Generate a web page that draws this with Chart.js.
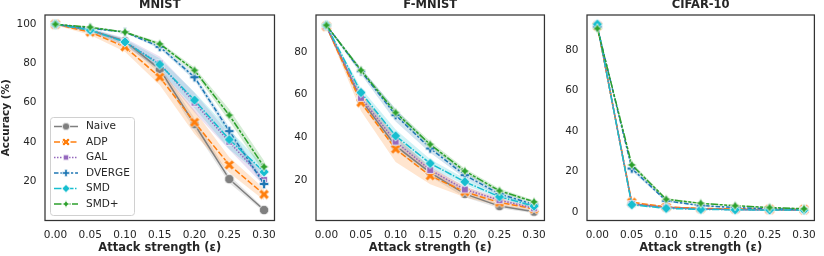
<!DOCTYPE html>
<html>
<head>
<meta charset="utf-8">
<script src="https://cdn.jsdelivr.net/npm/chart.js@4.4.0/dist/chart.umd.min.js"></script>
<style>
    html, body { margin: 0; padding: 0; background: #fff; }
    #wrap { position: relative; width: 824px; height: 256px; overflow: hidden; }
    canvas { position: absolute; top: 0; }
</style>
</head>
<body>
<div id="wrap">
    <canvas id="mnistChart" width="284" height="256" style="left:0px"></canvas>
    <canvas id="fmnistChart" width="270" height="256" style="left:284px"></canvas>
    <canvas id="cifarChart" width="270" height="256" style="left:554px"></canvas>
</div>
<script>
// x values and tick labels
const epsilons = [0, 0.05, 0.1, 0.15, 0.2, 0.25, 0.3];
const methods = ['Naive', 'ADP', 'GAL', 'DVERGE', 'SMD', 'SMD+'];

// MNIST accuracy (%) and band half-widths
const mnistNaive  = [100, 97, 91.5, 77, 49, 21, 5.2];
const mnistAdp    = [100, 96, 88.5, 73, 50, 28.2, 13.2];
const mnistGal    = [100, 97, 91, 80, 60, 40, 20.6];
const mnistDverge = [100, 98, 96, 88.5, 73, 45.5, 18.5];
const mnistSmd    = [100, 97, 91, 79.5, 61.3, 41.2, 24.7];
const mnistSmdp   = [100, 98.5, 96, 90, 76.5, 53.6, 27.3];
const mnistNaiveErr  = [0, 0.5, 1, 2, 3, 2, 1];
const mnistAdpErr    = [0.5, 1.5, 2.5, 4, 6, 4, 3];
const mnistGalErr    = [0.3, 1, 2, 3.5, 5, 4, 3];
const mnistDvergeErr = [0, 0.5, 0.5, 1, 1.5, 2, 1.5];
const mnistSmdErr    = [0, 1, 1.5, 3, 4, 5, 3];
const mnistSmdpErr   = [0, 0.5, 0.5, 1, 1.5, 3, 3];

// F-MNIST
const fmnistNaive  = [92, 57.5, 36, 23.5, 13.5, 7.8, 5.2];
const fmnistAdp    = [92, 56.3, 34.5, 22, 14.5, 9.5, 6.5];
const fmnistGal    = [92, 58.5, 38, 24.7, 15.6, 10.6, 6.8];
const fmnistDverge = [92.5, 71, 50.4, 34.8, 22.3, 13.5, 8.5];
const fmnistSmd    = [92.5, 61, 40.7, 27.8, 19.2, 12.2, 7.8];
const fmnistSmdp   = [92.5, 71.4, 51.6, 36.7, 24.2, 15, 9.8];
const fmnistNaiveErr  = [0.3, 2, 2, 2, 1.5, 1, 0.8];
const fmnistAdpErr    = [0.5, 4, 6, 4, 2.5, 1.5, 1];
const fmnistGalErr    = [0.3, 2, 2, 1.5, 1.5, 1, 0.8];
const fmnistDvergeErr = [0.3, 1.5, 3, 2, 1.5, 1, 0.8];
const fmnistSmdErr    = [0.3, 2, 3, 2, 1.5, 1, 0.8];
const fmnistSmdpErr   = [0.3, 1, 1.5, 1.5, 1.2, 1, 0.8];

// CIFAR-10
const cifarNaive  = [92.5, 4, 2.3, 1.6, 1.3, 1.1, 1.0];
const cifarAdp    = [92, 4.8, 2.5, 1.8, 1.5, 1.3, 1.2];
const cifarGal    = [92.5, 4, 2.2, 1.5, 1.2, 1.1, 1.0];
const cifarDverge = [91.5, 21.5, 5.5, 3.2, 2.2, 1.6, 1.3];
const cifarSmd    = [92.8, 3.6, 1.8, 1.3, 1.1, 1.0, 1.0];
const cifarSmdp   = [90.7, 23.3, 6.3, 4.3, 3.1, 2.2, 1.6];
const cifarNaiveErr  = [0.3, 0.5, 0.3, 0.2, 0.2, 0.2, 0.2];
const cifarAdpErr    = [0.3, 0.5, 0.3, 0.2, 0.2, 0.2, 0.2];
const cifarGalErr    = [0.3, 0.5, 0.3, 0.2, 0.2, 0.2, 0.2];
const cifarDvergeErr = [0.5, 1.2, 0.6, 0.4, 0.3, 0.3, 0.3];
const cifarSmdErr    = [0.3, 0.5, 0.3, 0.2, 0.2, 0.2, 0.2];
const cifarSmdpErr   = [0.5, 1.2, 0.6, 0.4, 0.3, 0.3, 0.3];

// tick labels
const epsTicks = [0, 0.05, 0.1, 0.15, 0.2, 0.25, 0.3];
const mnistTicks = [20, 40, 60, 80, 100];
const fmnistTicks = [20, 40, 60, 80];
const cifarTicks = [0, 20, 40, 60, 80];

const TEXT = '#262626';
const FONT = '"DejaVu Sans", sans-serif';

const seriesStyles = [
    { color: '#7f7f7f', dash: [], marker: 'o' },
    { color: '#ff7f0e', dash: [6, 2.25], marker: 'X' },
    { color: '#9467bd', dash: [1.5, 1.5], marker: 's' },
    { color: '#1f77b4', dash: [4.5, 1.9, 2.25, 1.9], marker: 'P' },
    { color: '#17becf', dash: [7.5, 1.5, 1.5, 1.5], marker: 'D' },
    { color: '#2ca02c', dash: [7.5, 1.5, 3, 1.5, 3, 1.5], marker: '*' }
];

function rgba(hex, a) {
    const n = parseInt(hex.slice(1), 16);
    return `rgba(${n >> 16},${(n >> 8) & 255},${n & 255},${a})`;
}

// marker sprites, seaborn style with white edge
function makeMarker(kind, color, ms) {
    const size = 16;
    const h = ms / 2;
    const c = document.createElement('canvas');
    c.width = c.height = size;
    const ctx = c.getContext('2d');
    ctx.translate(size / 2, size / 2);
    const poly = (pts, rot = 0) => {
        const cs = Math.cos(rot), sn = Math.sin(rot);
        pts.forEach(([x, y], i) => {
            const px = x * cs - y * sn, py = x * sn + y * cs;
            i ? ctx.lineTo(px, py) : ctx.moveTo(px, py);
        });
        ctx.closePath();
    };
    const t = h / 3;
    const plus = [[-t, -h], [t, -h], [t, -t], [h, -t], [h, t], [t, t], [t, h], [-t, h], [-t, t], [-h, t], [-h, -t], [-t, -t]];
    ctx.beginPath();
    switch (kind) {
        case 'o': ctx.arc(0, 0, h, 0, Math.PI * 2); break;
        case 's': ctx.rect(-h * 0.72, -h * 0.72, h * 1.44, h * 1.44); break;
        case 'D': poly([[0, -h * 1.1], [h * 1.1, 0], [0, h * 1.1], [-h * 1.1, 0]]); break;
        case 'P': poly(plus); break;
        case 'X': poly(plus.map(([x, y]) => [x * 1.15, y * 1.15]), Math.PI / 4); break;
        case '*': {
            const pts = [];
            for (let k = 0; k < 8; k++) {
                const r = k % 2 ? h * 0.5 : h * 1.05;
                const a = -Math.PI / 2 + k * Math.PI / 4;
                pts.push([r * Math.cos(a), r * Math.sin(a)]);
            }
            poly(pts);
            break;
        }
    }
    ctx.fillStyle = color;
    ctx.fill();
    ctx.strokeStyle = '#fff';
    ctx.lineWidth = 0.8;
    ctx.stroke();
    return c;
}

const markers = seriesStyles.map(s => makeMarker(s.marker, s.color, 9.5));
const legendMarkers = seriesStyles.map(s => makeMarker(s.marker, s.color, 7.5));

// frame + panel title
const panelDecor = {
    id: 'panelDecor',
    afterDatasetsDraw(chart, args, opts) {
        const { ctx, chartArea: a } = chart;
        ctx.save();
        ctx.strokeStyle = '#333';
        ctx.lineWidth = 1.25;
        ctx.strokeRect(a.left, a.top, a.right - a.left, a.bottom - a.top);
        ctx.fillStyle = TEXT;
        ctx.font = `bold 11.5px ${FONT}`;
        ctx.textAlign = 'center';
        ctx.textBaseline = 'middle';
        ctx.fillText(opts.title, (a.left + a.right) / 2, 5.5);
        ctx.restore();
    }
};

// legend box drawn inside the MNIST axes
const boxLegend = {
    id: 'boxLegend',
    afterDraw(chart, args, opts) {
        if (!opts.show) return;
        const ctx = chart.ctx;
        ctx.save();
        ctx.beginPath();
        ctx.roundRect(50.5, 117.5, 84, 98, 3);
        ctx.fillStyle = 'rgba(255,255,255,0.8)';
        ctx.fill();
        ctx.strokeStyle = '#d0d0d0';
        ctx.lineWidth = 1;
        ctx.stroke();
        ctx.font = `10.5px ${FONT}`;
        ctx.textBaseline = 'middle';
        methods.forEach((name, i) => {
            const y = 126.5 + i * 15.5;
            const st = seriesStyles[i];
            ctx.beginPath();
            ctx.setLineDash(st.dash);
            ctx.strokeStyle = st.color;
            ctx.lineWidth = 1.5;
            ctx.moveTo(54, y);
            ctx.lineTo(78, y);
            ctx.stroke();
            ctx.setLineDash([]);
            ctx.drawImage(legendMarkers[i], 66 - 8, y - 8);
            ctx.fillStyle = TEXT;
            ctx.fillText(name, 86, y);
        });
        ctx.restore();
    }
};

function buildPanel(id, means, errs, cfg) {
    const bands = [];
    const lines = [];
    means.forEach((vals, i) => {
        const st = seriesStyles[i];
        bands.push({
            data: epsilons.map((x, k) => ({ x, y: vals[k] + errs[i][k] })),
            fill: '+1',
            backgroundColor: rgba(st.color, 0.2),
            borderWidth: 0,
            pointRadius: 0,
            order: 60 - i
        });
        bands.push({
            data: epsilons.map((x, k) => ({ x, y: vals[k] - errs[i][k] })),
            fill: false,
            borderWidth: 0,
            pointRadius: 0,
            order: 60 - i
        });
        lines.push({
            label: methods[i],
            data: epsilons.map((x, k) => ({ x, y: vals[k] })),
            borderColor: st.color,
            backgroundColor: st.color,
            borderWidth: 1.5,
            borderDash: st.dash,
            pointStyle: markers[i],
            pointRadius: 4,
            fill: false,
            order: 10 - i
        });
    });

    const tickFont = { family: FONT, size: 10.5 };

    return new Chart(document.getElementById(id), {
        type: 'line',
        data: { datasets: bands.concat(lines) },
        options: {
            responsive: false,
            animation: false,
            devicePixelRatio: 1,
            layout: { padding: { top: 15, right: cfg.padRight, left: 0, bottom: 0 } },
            plugins: {
                legend: { display: false },
                tooltip: { enabled: false },
                panelDecor: { title: cfg.title },
                boxLegend: { show: !!cfg.legend }
            },
            elements: { line: { tension: 0 } },
            scales: {
                x: {
                    type: 'linear',
                    min: -0.015,
                    max: 0.315,
                    afterBuildTicks: s => { s.ticks = epsTicks.map(v => ({ value: v })); },
                    afterFit: s => { s.height = 35.5; },
                    ticks: {
                        autoSkip: false,
                        maxRotation: 0,
                        padding: 8,
                        color: TEXT,
                        font: tickFont,
                        callback: v => v.toFixed(2)
                    },
                    grid: { display: false, drawTicks: false },
                    border: { display: false },
                    title: {
                        display: true,
                        text: 'Attack strength (ε)',
                        color: TEXT,
                        font: { family: FONT, size: 11.5, weight: 'bold' },
                        padding: { top: 0, bottom: 1 }
                    }
                },
                y: {
                    type: 'linear',
                    min: cfg.yMin,
                    max: cfg.yMax,
                    afterBuildTicks: s => { s.ticks = cfg.yTicks.map(v => ({ value: v })); },
                    afterFit: s => { s.width = cfg.yWidth; },
                    ticks: {
                        padding: 8.5,
                        color: TEXT,
                        font: tickFont,
                        callback: v => String(v)
                    },
                    grid: { display: false, drawTicks: false },
                    border: { display: false },
                    title: {
                        display: !!cfg.yTitle,
                        text: 'Accuracy (%)',
                        color: TEXT,
                        font: { family: FONT, size: 10.5, weight: 'bold' },
                        padding: { top: 0, bottom: 0 }
                    }
                }
            }
        },
        plugins: [panelDecor, boxLegend]
    });
}

buildPanel('mnistChart',
    [mnistNaive, mnistAdp, mnistGal, mnistDverge, mnistSmd, mnistSmdp],
    [mnistNaiveErr, mnistAdpErr, mnistGalErr, mnistDvergeErr, mnistSmdErr, mnistSmdpErr],
    { title: 'MNIST', yMin: -0.13, yMax: 104.74, yTicks: mnistTicks, yWidth: 45, padRight: 3, yTitle: true, legend: true });

buildPanel('fmnistChart',
    [fmnistNaive, fmnistAdp, fmnistGal, fmnistDverge, fmnistSmd, fmnistSmdp],
    [fmnistNaiveErr, fmnistAdpErr, fmnistGalErr, fmnistDvergeErr, fmnistSmdErr, fmnistSmdpErr],
    { title: 'F-MNIST', yMin: 1.06, yMax: 97.3, yTicks: fmnistTicks, yWidth: 32, padRight: 2.5 });

buildPanel('cifarChart',
    [cifarNaive, cifarAdp, cifarGal, cifarDverge, cifarSmd, cifarSmdp],
    [cifarNaiveErr, cifarAdpErr, cifarGalErr, cifarDvergeErr, cifarSmdErr, cifarSmdpErr],
    { title: 'CIFAR-10', yMin: -4.2, yMax: 97.4, yTicks: cifarTicks, yWidth: 33, padRight: 2 });
</script>
</body>
</html>
